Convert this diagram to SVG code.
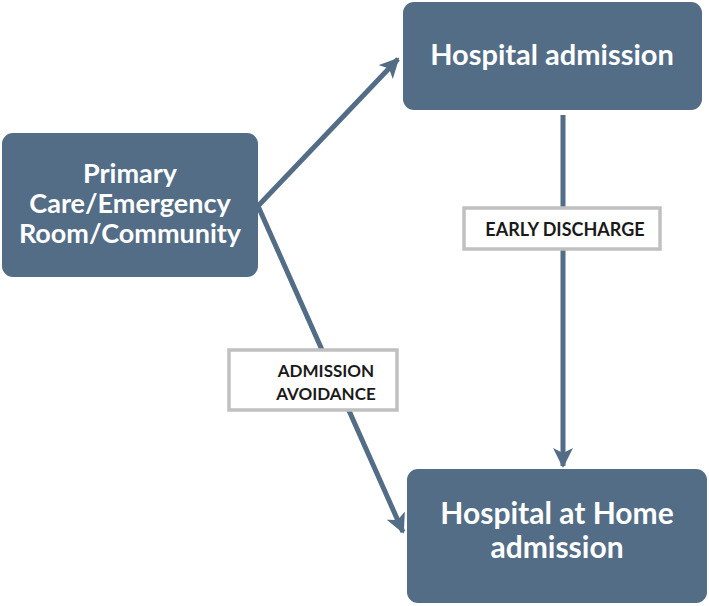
<svg xmlns="http://www.w3.org/2000/svg" width="709" height="606" viewBox="0 0 709 606">
<style>
.node{fill:#536d87}
.nt{fill:#ffffff;font-family:Lato,"Open Sans",sans-serif;font-weight:bold;text-anchor:middle}
.lbl{fill:#ffffff;stroke:#c0c0c0;stroke-width:3.5}
.lt{fill:#1a1a1a;font-family:Lato,"Open Sans",sans-serif;font-weight:bold;text-anchor:middle}
.conn{stroke:#536d87;stroke-width:5;fill:none}
</style>
<defs>
<marker id="ah" viewBox="0 0 10 10" refX="9" refY="5" markerWidth="4" markerHeight="4" orient="auto" markerUnits="strokeWidth">
<path d="M0,0 L10,5 L0,10 L2.5,5 Z" fill="#536d87"/>
</marker>
</defs>
<g id="connectors">
<line class="conn" x1="258" y1="206" x2="398" y2="59" marker-end="url(#ah)"/>
<line class="conn" x1="258" y1="206" x2="403" y2="532" marker-end="url(#ah)"/>
<line class="conn" x1="563" y1="115" x2="563" y2="466" marker-end="url(#ah)"/>
</g>
<g id="primary">
<rect class="node" x="2" y="133" width="256" height="144" rx="11"/>
<text class="nt" font-size="27" x="130" y="183">Primary</text>
<text class="nt" font-size="27" x="130" y="213">Care/Emergency</text>
<text class="nt" font-size="27" x="130" y="243">Room/Community</text>
</g>
<g id="hospital-admission">
<rect class="node" x="403" y="2" width="299" height="108" rx="11"/>
<text class="nt" font-size="29" x="552" y="65">Hospital admission</text>
</g>
<g id="hospital-at-home">
<rect class="node" x="407" y="469" width="300" height="134" rx="11"/>
<text class="nt" font-size="30" x="557" y="524">Hospital at Home</text>
<text class="nt" font-size="30" x="557" y="558">admission</text>
</g>
<g id="early-discharge">
<rect class="lbl" x="464" y="208" width="196" height="41"/>
<text class="lt" font-size="18" x="565" y="236">EARLY DISCHARGE</text>
</g>
<g id="admission-avoidance">
<rect class="lbl" x="229" y="350" width="168" height="60"/>
<text class="lt" font-size="17" x="326" y="377">ADMISSION</text>
<text class="lt" font-size="17" x="326" y="400">AVOIDANCE</text>
</g>
</svg>
